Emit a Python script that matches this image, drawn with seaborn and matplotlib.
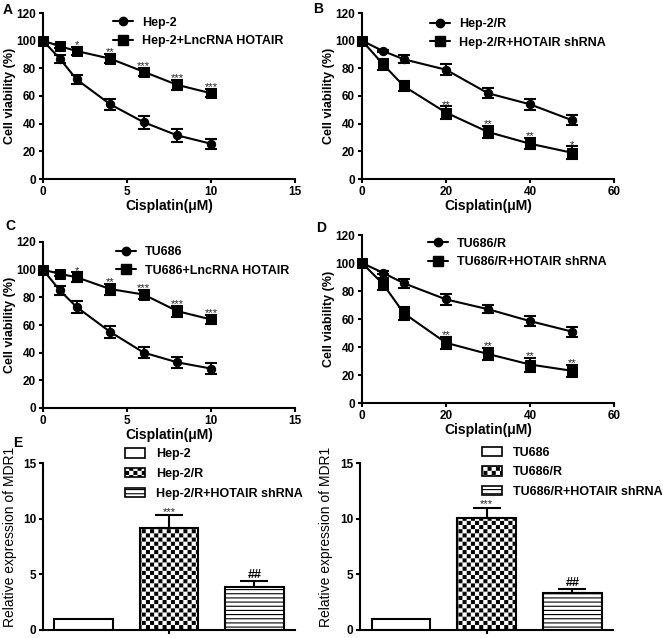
import numpy as np
import pandas as pd
import matplotlib.pyplot as plt
import matplotlib.hatch as mhatch
from matplotlib.path import Path
from matplotlib.patches import Patch
from matplotlib.lines import Line2D
import seaborn as sns

# ---- data ----
dose_low = [0, 1, 2, 4, 6, 8, 10]
dose_high = [0, 5, 10, 20, 30, 40, 50]

# A: Hep-2 vs Hep-2 + LncRNA HOTAIR
hep2 = [100, 87, 72, 54, 41, 31.5, 25.5]
hep2_sd = [0, 3, 3.5, 4, 4.5, 4.5, 3.5]
hep2_hotair = [100, 96, 92.5, 87, 77.5, 68, 62]
hep2_hotair_sd = [0, 1.5, 3, 3.5, 3, 3.5, 3]
sig_a = ['', '', '*', '**', '***', '***', '***']

# B: Hep-2/R vs Hep-2/R + HOTAIR shRNA
hep2r = [100, 92.5, 86.5, 79, 62, 54, 42.5]
hep2r_sd = [0, 1, 3, 4, 3.5, 4, 3.5]
hep2r_sh = [100, 83, 67, 48, 34, 25.5, 19]
hep2r_sh_sd = [0, 4, 3.5, 4.5, 4.5, 4, 4.5]
sig_b = ['', '', '', '**', '**', '**', '*']

# C: TU686 vs TU686 + LncRNA HOTAIR
tu686 = [100, 85, 73, 55, 40, 33, 28.5]
tu686_sd = [0, 3, 4, 4.5, 4, 4, 4]
tu686_hotair = [100, 97, 94.5, 86, 82, 70, 64]
tu686_hotair_sd = [0, 1.5, 3.5, 4, 3.5, 4, 3.5]
sig_c = ['', '', '*', '**', '***', '***', '***']

# D: TU686/R vs TU686/R + HOTAIR shRNA
tu686r = [100, 93, 85.5, 74, 67, 58.5, 51]
tu686r_sd = [0, 1, 3, 4, 3, 3.5, 3.5]
tu686r_sh = [100, 85, 64, 43, 35, 27.5, 23]
tu686r_sh_sd = [0, 4, 4.5, 4.5, 4.5, 5, 4.5]
sig_d = ['', '', '', '**', '**', '**', '**']

# E: MDR1 expression
groups_hep = ['Hep-2', 'Hep-2/R', 'Hep-2/R+HOTAIR shRNA']
mdr1_hep = [1.0, 9.2, 3.9]
mdr1_hep_sd = [0, 1.1, 0.5]
groups_tu = ['TU686', 'TU686/R', 'TU686/R+HOTAIR shRNA']
mdr1_tu = [1.0, 10.1, 3.35]
mdr1_tu_sd = [0, 0.9, 0.3]
mdr1_sig = ['', '***', '##']


# '*' in a hatch string -> filled checkerboard (GraphPad style) instead of stars
class CheckerHatch(mhatch.HatchPatternBase):
    def __init__(self, hatch, density):
        self.n = hatch.count('*') * density
        self.num_vertices = (self.n * self.n // 2) * 5

    def set_vertices_and_codes(self, vertices, codes):
        step = 1.0 / self.n
        pad = 0.15 * step
        sq = np.array([[0, 0], [1, 0], [1, 1], [0, 1], [0, 0]]) * (step - 2 * pad) + pad
        cells = [(i, j) for i in range(self.n) for j in range(self.n) if (i + j) % 2 == 0]
        for k, (i, j) in enumerate(cells):
            vertices[k * 5:(k + 1) * 5] = sq + [i * step, j * step]
            codes[k * 5:(k + 1) * 5] = [Path.MOVETO, Path.LINETO, Path.LINETO,
                                        Path.LINETO, Path.CLOSEPOLY]


mhatch._hatch_types = [h for h in mhatch._hatch_types if h is not mhatch.Stars] + [CheckerHatch]
bar_hatches = ['', '****', '----']

sns.set_style('ticks', {'axes.edgecolor': 'black', 'xtick.color': 'black',
                        'ytick.color': 'black', 'text.color': 'black',
                        'axes.labelcolor': 'black'})
plt.rcParams['font.family'] = ['Liberation Sans', 'DejaVu Sans']
plt.rcParams['font.weight'] = 'bold'
plt.rcParams['axes.labelweight'] = 'bold'
plt.rcParams['axes.linewidth'] = 1.5
for a in ('xtick', 'ytick'):
    plt.rcParams[a + '.major.width'] = 1.5
    plt.rcParams[a + '.major.size'] = 3
    plt.rcParams[a + '.major.pad'] = 2
    plt.rcParams[a + '.labelsize'] = 8.5
plt.rcParams['hatch.linewidth'] = 0.8

W, H = 663, 638
fig = plt.figure(figsize=(W / 100, H / 100), dpi=100)


def px_axes(left, bottom, right, top):
    # pixel box (origin top-left) -> figure fraction
    return fig.add_axes([left / W, 1 - bottom / H, (right - left) / W, (bottom - top) / H])


def draw_curves(ax, dose, m1, s1, m2, s2, names, sig, xmax, xstep, leg_xy):
    dose = np.array(dose)
    sns.lineplot(x=dose, y=m1, marker='o', markersize=6, color='black', linewidth=1.5,
                 markeredgecolor='black', errorbar=None, clip_on=False, ax=ax)
    sns.lineplot(x=dose, y=m2, marker='s', markersize=7, color='black', linewidth=1.5,
                 markeredgecolor='black', errorbar=None, clip_on=False, ax=ax)
    for m, s in ((m1, s1), (m2, s2)):
        m, s = np.array(m), np.array(s)
        keep = s > 0
        ax.errorbar(dose[keep], m[keep], yerr=s[keep], fmt='none', ecolor='black',
                    elinewidth=1.5, capsize=4.5, capthick=1.5)
    top = np.array(m2) + np.array(s2)
    for x, y, t in zip(dose, top, sig):
        if t:
            ax.text(x, y - 1, t, ha='center', va='baseline', fontsize=8,
                    fontweight='normal', color='#222222')
    ax.set_xlim(0, xmax)
    ax.set_ylim(0, 120)
    ax.set_xticks(range(0, xmax + 1, xstep))
    ax.set_yticks(range(0, 121, 20))
    ax.set_xlabel('Cisplatin(μM)', fontsize=10, labelpad=1)
    ax.set_ylabel('Cell viability (%)', fontsize=9)
    ax.yaxis.set_label_coords(-0.108, 0.5)
    sns.despine(ax=ax)
    handles = [Line2D([0], [0], color='black', lw=1.5, marker='o', ms=6),
               Line2D([0], [0], color='black', lw=1.5, marker='s', ms=7)]
    ax.legend(handles, names, loc='upper left', bbox_to_anchor=leg_xy, frameon=False,
              fontsize=9, handlelength=1.6, handletextpad=0.7, labelspacing=0.5,
              borderpad=0, borderaxespad=0)


def draw_bars(ax, names, vals, sds, sig, leg_xy):
    sns.barplot(x=names, y=vals, color='white', edgecolor='black', linewidth=1.5,
                width=0.68, errorbar=None, ax=ax)
    for patch, h in zip(ax.patches, bar_hatches):
        patch.set_hatch(h)
    xs = np.array([p.get_x() + p.get_width() / 2 for p in ax.patches])
    vals, sds = np.array(vals), np.array(sds)
    keep = sds > 0
    ax.errorbar(xs[keep], vals[keep], yerr=[np.zeros(keep.sum()), sds[keep]], fmt='none',
                ecolor='black', elinewidth=1.5, capsize=10, capthick=1.5)
    for x, y, t in zip(xs, vals + sds, sig):
        if t.startswith('#'):
            ax.text(x, y, t, ha='center', va='bottom', fontsize=9)
        elif t:
            ax.text(x, y, t, ha='center', va='baseline', fontsize=8,
                    fontweight='normal', color='#222222')
    ax.set_ylim(0, 15)
    ax.set_yticks([0, 5, 10, 15])
    ax.set_xticks([1])
    ax.set_xticklabels([''])
    ax.set_xlabel('')
    ax.set_ylabel('Relative expression of MDR1', fontsize=10, fontweight='normal')
    ax.yaxis.set_label_coords(-0.105, 0.56)
    sns.despine(ax=ax)
    handles = [Patch(facecolor='white', edgecolor='black', hatch=h, lw=1.2) for h in bar_hatches]
    ax.legend(handles, names, loc='upper left', bbox_to_anchor=leg_xy, frameon=False,
              fontsize=9, handlelength=1.6, handleheight=0.8, handletextpad=0.9,
              labelspacing=0.6, borderpad=0, borderaxespad=0)


ax_a = px_axes(43, 179, 295, 13)
draw_curves(ax_a, dose_low, hep2, hep2_sd, hep2_hotair, hep2_hotair_sd,
            ['Hep-2', 'Hep-2+LncRNA HOTAIR'], sig_a, 15, 5, (0.278, 0.978))

ax_b = px_axes(362, 179, 614, 13)
draw_curves(ax_b, dose_high, hep2r, hep2r_sd, hep2r_sh, hep2r_sh_sd,
            ['Hep-2/R', 'Hep-2/R+HOTAIR shRNA'], sig_b, 60, 20, (0.27, 0.967))

ax_c = px_axes(43, 408, 295, 242)
draw_curves(ax_c, dose_low, tu686, tu686_sd, tu686_hotair, tu686_hotair_sd,
            ['TU686', 'TU686+LncRNA HOTAIR'], sig_c, 15, 5, (0.29, 0.973))

ax_d = px_axes(362, 403, 614, 235)
draw_curves(ax_d, dose_high, tu686r, tu686r_sd, tu686r_sh, tu686r_sh_sd,
            ['TU686/R', 'TU686/R+HOTAIR shRNA'], sig_d, 60, 20, (0.262, 0.983))

ax_e1 = px_axes(43, 630, 295, 463)
draw_bars(ax_e1, groups_hep, mdr1_hep, mdr1_hep_sd, mdr1_sig, (0.325, 1.088))

ax_e2 = px_axes(360, 630, 613, 463)
draw_bars(ax_e2, groups_tu, mdr1_tu, mdr1_tu_sd, mdr1_sig, (0.482, 1.098))

for letter, x, y in (('A', 3, 10), ('B', 313, 9), ('C', 5, 226), ('D', 316, 228), ('E', 13, 443)):
    fig.text(x / W, 1 - y / H, letter, fontsize=10, fontweight='bold', va='center', ha='left')

fig.savefig('out.png', dpi=100)
